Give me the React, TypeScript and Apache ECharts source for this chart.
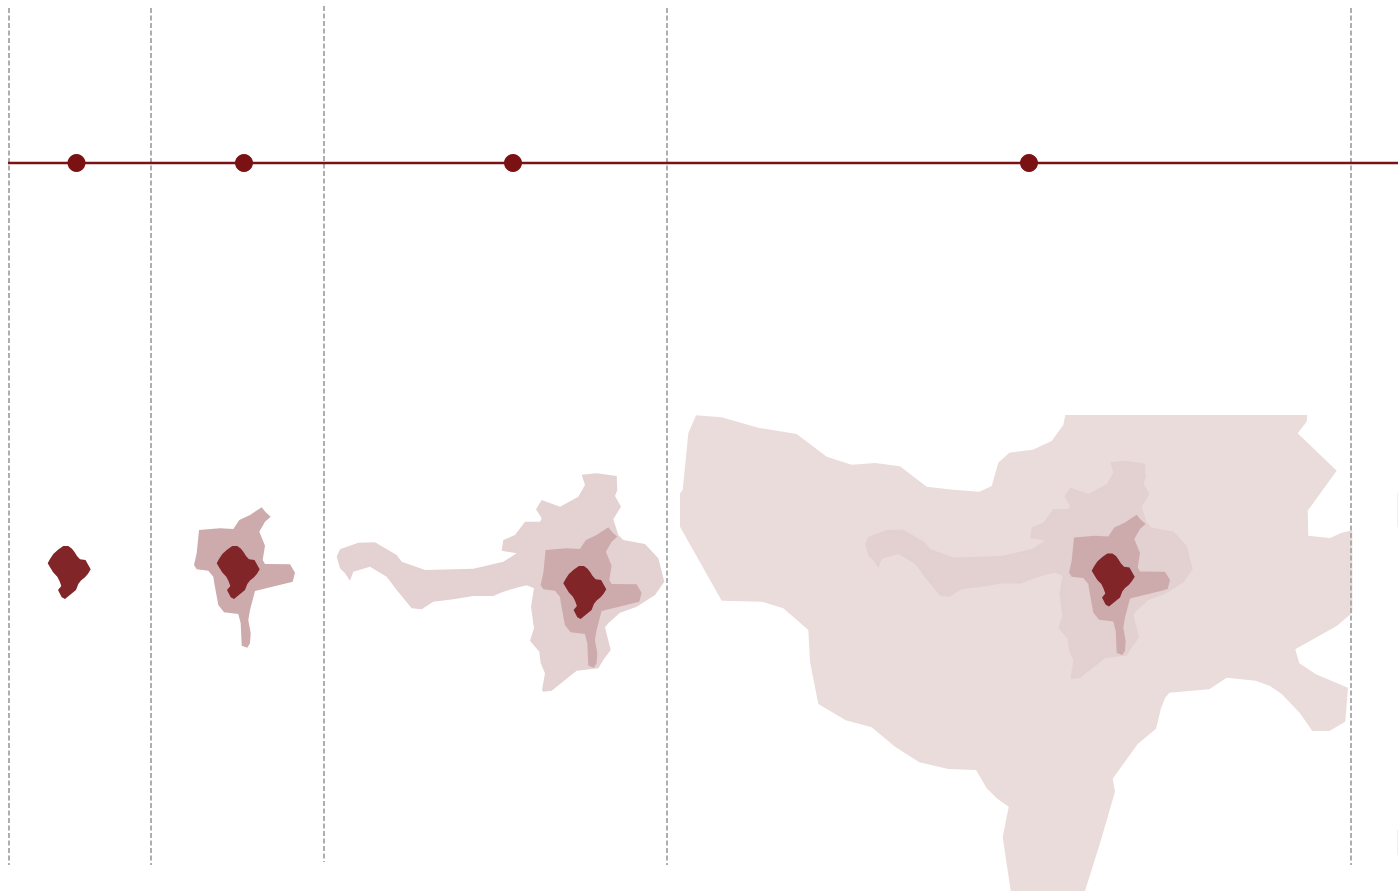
import React, { useEffect, useRef } from "react";
import * as echarts from "echarts";

type Pt = [number, number];

const coreOutline: Pt[] = [[47.7,563.3],[50,559],[53.3,554],[58,549.8],[63.3,546],[68.3,546],[72,548.7],[74.5,552],[77,556],[80,559.3],[85.5,560],[88,564.5],[90.7,569.3],[88,573.7],[85,577.3],[81,580.5],[78.3,584],[76,590],[70.5,594.5],[65,599],[61.7,597.3],[58,590],[61.3,586],[59.5,581],[57.3,576.7],[53.3,572.5],[50.5,568]];

const midOutline: Pt[] = [[199,530],[220,528.3],[233.3,529],[239.3,520],[250,515],[261.7,507.3],[265.7,512.3],[270.7,516.7],[265,521.7],[259.3,531.7],[265,545.7],[262.7,560],[265,564],[290,564.3],[295,572.7],[292.7,581.7],[286.7,583.3],[255,591],[250,610],[248.3,620],[250.7,633.3],[250,643.3],[247.3,647.7],[241.7,645.7],[240.7,623.3],[238.3,614],[224,612.3],[218.3,605],[214.3,583.3],[213.3,576.7],[208.3,570.7],[196.7,569.3],[194,565],[196.7,553.3]];

const lightOutline: Pt[] = [[581.7,474.7],[596.7,473.3],[616.7,476],[617.3,490],[615,496],[621,506.7],[613.3,519.3],[618.3,535],[623.3,540],[645,544],[658.3,558.3],[664.3,581.7],[655,595],[636.7,606.7],[620,612.7],[608.3,623.3],[605,627.3],[610.7,650],[603.3,660],[598.3,668.3],[576.7,670.7],[570,676],[551.7,690.7],[543.3,691.7],[542,690],[545,673.3],[540.7,663.3],[539.3,651.7],[530,640.7],[534,628.3],[531,606.7],[534,588.3],[526.7,585.3],[518.3,587.3],[503.3,591.7],[493.3,596],[473.3,596],[453.3,599.3],[433.3,601.7],[421.7,609.3],[411.7,608.3],[396.7,590],[386.7,576.7],[370,566.7],[353.3,571.7],[350,580.7],[345,573.3],[340,568.3],[336.7,556.7],[340,549.3],[358.3,542.7],[375,542.3],[396.7,555],[401.7,561.7],[425,570],[473.3,568.7],[503.3,561.7],[516.7,553.3],[501.7,550.7],[503.3,540],[515,535],[525,521.7],[540,521.7],[541.7,518.3],[536,509.3],[541.7,500],[560,506.7],[578.3,496.7],[585,485]];

const outerOutline: Pt[] = [[696,415.3],[721.7,417.3],[758.3,427.7],[796.7,434],[826.7,456.7],[851.7,464.7],[875,463],[900,466.3],[926.7,486.7],[953.3,489.7],[979.3,491.7],[991.7,486],[998.3,462.7],[1009.3,452.7],[1032.7,449.7],[1051.7,441],[1063.3,425],[1065.3,415],[1307.3,415],[1306.7,421.7],[1297.7,433.3],[1336.7,470.7],[1307.7,510.7],[1308.3,535.7],[1330,538],[1341.7,532.7],[1352.3,530.3],[1352.3,612.7],[1336.7,626],[1295.3,649.3],[1299.3,663.3],[1316,674.3],[1348,687.7],[1345.3,721.7],[1329.3,731],[1312.3,731],[1300,713.3],[1281.7,694],[1270,686],[1255.7,680.7],[1226.7,677.7],[1209.3,689.3],[1169.3,692.7],[1165,698.3],[1161,708.3],[1156,728.7],[1137.7,744],[1112.7,778.7],[1115,791.7],[1100,843.3],[1085,891],[1010.7,891],[1002.7,837.3],[1008.7,806.7],[996.7,798.3],[986.7,788.3],[976,770],[948.3,769],[919.3,762.3],[895,746.7],[871.7,727.3],[845.7,720.3],[818.3,704],[810,661.7],[808.3,630],[783.3,608.3],[761.7,601.7],[721.7,600.7],[680,526.7],[680,493.3],[682.7,490],[688.3,433.3]];

const edgeSliverUpper: Pt[] = [[1397,493],[1398,493],[1398,527],[1397,527]];
const edgeSliverLower: Pt[] = [[1397,830],[1398,830],[1398,855],[1397,855]];

// [outline, shift x, shift y, colour], painted back to front
const layers: [Pt[], number, number, string][] = [
  [edgeSliverUpper, 0, 0, "#f5eeee"],
  [edgeSliverLower, 0, 0, "#f5eeee"],
  [outerOutline, 0, 0, "#ebdcdc"],
  [lightOutline, 0, 0, "#e4d1d2"],
  [lightOutline, 528.4, -12.6, "#e3d0d1"],
  [midOutline, 0, 0, "#cdabac"],
  [midOutline, 346.6, 20, "#cdabac"],
  [midOutline, 875, 7.4, "#cdabac"],
  [coreOutline, 0, 0, "#812528"],
  [coreOutline, 169, 0, "#812528"],
  [coreOutline, 515.6, 20, "#812528"],
  [coreOutline, 1044, 7.4, "#812528"],
];

const dividers: [number, number, number][] = [
  [9, 8, 865],
  [151, 8, 865],
  [324, 6, 862],
  [667, 8, 865],
  [1351, 8, 865],
];

const timelineY = 163;
const timelineSpan: [number, number] = [8, 1398];
const timelineDots = [76.5, 244, 513, 1029];

export default function App() {
  const ref = useRef<HTMLDivElement>(null);
  useEffect(() => {
    const chart = echarts.init(ref.current!, null, { renderer: "svg" });
    chart.setOption({
      animation: false,
      backgroundColor: "#ffffff",
      grid: { left: 0, right: 0, top: 0, bottom: 0 },
      xAxis: { type: "value", min: 0, max: 1398, show: false },
      yAxis: { type: "value", min: 0, max: 893, inverse: true, show: false },
      series: [
        {
          type: "custom",
          coordinateSystem: "cartesian2d",
          silent: true,
          z: 1,
          data: layers.map((_, i) => [i]),
          renderItem: (params: any, api: any) => {
            const [outline, dx, dy, fill] = layers[api.value(0)];
            return {
              type: "polygon",
              shape: { points: outline.map(([x, y]) => api.coord([x + dx, y + dy])) },
              style: { fill, stroke: "none" },
            };
          },
        },
        ...dividers.map(([x, y0, y1]) => ({
          type: "line",
          z: 2,
          silent: true,
          symbol: "none",
          data: [[x, y0], [x, y1]],
          lineStyle: { color: "#a6a6a6", width: 1.8, type: [5, 2.5] },
        })),
        {
          type: "line",
          z: 3,
          silent: true,
          symbol: "none",
          data: timelineSpan.map((x) => [x, timelineY]),
          lineStyle: { color: "#7a1214", width: 2.5 },
        },
        {
          type: "scatter",
          z: 4,
          silent: true,
          symbol: "circle",
          symbolSize: 18,
          data: timelineDots.map((x) => [x, timelineY]),
          itemStyle: { color: "#7a1214", opacity: 1 },
        },
      ],
    });
    return () => chart.dispose();
  }, []);
  return <div ref={ref} style={{ position: "fixed", left: 0, top: 0, width: 1398, height: 893 }} />;
}
